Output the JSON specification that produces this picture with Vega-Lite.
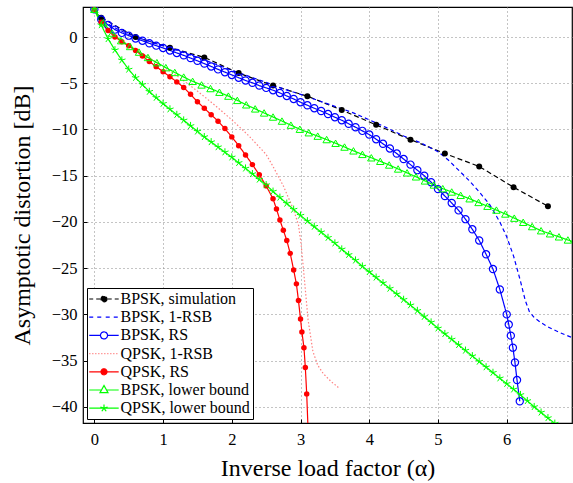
{
"$schema": "https://vega.github.io/schema/vega-lite/v6.json",
"width": 489, "height": 416,
"autosize": {"type": "none"},
"padding": {"left": 83, "top": 7, "right": 1, "bottom": 60},
"config": {
  "font": "Liberation Serif",
  "view": {"stroke": "black", "strokeWidth": 1.2},
  "legend": {"labelFont": "Liberation Serif"},
  "axis": {"labelFont": "Liberation Serif", "labelFontSize": 16.5, "labelColor": "black", "titleFont": "Liberation Serif", "titleFontSize": 24, "titleFontWeight": "normal", "titleColor": "black", "grid": true, "gridDash": [1, 3], "gridColor": "#888", "gridWidth": 1, "domain": false, "ticks": true, "tickSize": -4, "tickColor": "black", "tickWidth": 1}
},
"data": {"values": [
{"s":"BPSK, simulation","a":0.1,"d":2.1},{"s":"BPSK, simulation","a":0.6,"d":0.0},{"s":"BPSK, simulation","a":1.1,"d":-1.15},{"s":"BPSK, simulation","a":1.6,"d":-2.2},{"s":"BPSK, simulation","a":2.1,"d":-3.9},{"s":"BPSK, simulation","a":2.6,"d":-5.25},{"s":"BPSK, simulation","a":3.1,"d":-6.4},{"s":"BPSK, simulation","a":3.6,"d":-7.9},{"s":"BPSK, simulation","a":4.1,"d":-9.5},{"s":"BPSK, simulation","a":4.6,"d":-11.1},{"s":"BPSK, simulation","a":5.1,"d":-12.6},{"s":"BPSK, simulation","a":5.6,"d":-14.0},{"s":"BPSK, simulation","a":6.1,"d":-16.25},{"s":"BPSK, simulation","a":6.6,"d":-18.3},
{"s":"BPSK, 1-RSB","a":0,"d":3.0},{"s":"BPSK, 1-RSB","a":0.1,"d":1.95},{"s":"BPSK, 1-RSB","a":0.2,"d":1.4},{"s":"BPSK, 1-RSB","a":0.35,"d":0.8},{"s":"BPSK, 1-RSB","a":0.5,"d":0.3},{"s":"BPSK, 1-RSB","a":0.75,"d":-0.35},{"s":"BPSK, 1-RSB","a":1.0,"d":-0.95},{"s":"BPSK, 1-RSB","a":1.25,"d":-1.55},{"s":"BPSK, 1-RSB","a":1.5,"d":-2.2},{"s":"BPSK, 1-RSB","a":1.75,"d":-2.9},{"s":"BPSK, 1-RSB","a":2.0,"d":-3.6},{"s":"BPSK, 1-RSB","a":2.25,"d":-4.25},{"s":"BPSK, 1-RSB","a":2.5,"d":-4.9},{"s":"BPSK, 1-RSB","a":2.75,"d":-5.6},{"s":"BPSK, 1-RSB","a":3.0,"d":-6.2},{"s":"BPSK, 1-RSB","a":3.25,"d":-6.85},{"s":"BPSK, 1-RSB","a":3.5,"d":-7.5},{"s":"BPSK, 1-RSB","a":3.75,"d":-8.15},{"s":"BPSK, 1-RSB","a":4.0,"d":-8.95},{"s":"BPSK, 1-RSB","a":4.25,"d":-9.8},{"s":"BPSK, 1-RSB","a":4.5,"d":-10.7},{"s":"BPSK, 1-RSB","a":4.75,"d":-11.45},{"s":"BPSK, 1-RSB","a":5.0,"d":-12.4},{"s":"BPSK, 1-RSB","a":5.15,"d":-13.3},{"s":"BPSK, 1-RSB","a":5.3,"d":-14.4},{"s":"BPSK, 1-RSB","a":5.45,"d":-15.5},{"s":"BPSK, 1-RSB","a":5.6,"d":-16.75},{"s":"BPSK, 1-RSB","a":5.75,"d":-18.1},{"s":"BPSK, 1-RSB","a":5.9,"d":-20.0},{"s":"BPSK, 1-RSB","a":6.0,"d":-21.6},{"s":"BPSK, 1-RSB","a":6.1,"d":-23.7},{"s":"BPSK, 1-RSB","a":6.2,"d":-26.4},{"s":"BPSK, 1-RSB","a":6.27,"d":-28.5},{"s":"BPSK, 1-RSB","a":6.33,"d":-29.7},{"s":"BPSK, 1-RSB","a":6.4,"d":-30.35},{"s":"BPSK, 1-RSB","a":6.5,"d":-30.9},{"s":"BPSK, 1-RSB","a":6.6,"d":-31.35},{"s":"BPSK, 1-RSB","a":6.75,"d":-31.9},{"s":"BPSK, 1-RSB","a":6.95,"d":-32.5},
{"s":"BPSK, RS","a":0,"d":3.0},{"s":"BPSK, RS","a":0.1,"d":1.9},{"s":"BPSK, RS","a":0.2,"d":1.3},{"s":"BPSK, RS","a":0.3,"d":0.8},{"s":"BPSK, RS","a":0.4,"d":0.45},{"s":"BPSK, RS","a":0.5,"d":0.15},{"s":"BPSK, RS","a":0.6,"d":-0.15},{"s":"BPSK, RS","a":0.7,"d":-0.4},{"s":"BPSK, RS","a":0.8,"d":-0.68},{"s":"BPSK, RS","a":0.9,"d":-0.93},{"s":"BPSK, RS","a":1.0,"d":-1.18},{"s":"BPSK, RS","a":1.1,"d":-1.45},{"s":"BPSK, RS","a":1.2,"d":-1.72},{"s":"BPSK, RS","a":1.3,"d":-1.98},{"s":"BPSK, RS","a":1.4,"d":-2.27},{"s":"BPSK, RS","a":1.5,"d":-2.57},{"s":"BPSK, RS","a":1.6,"d":-2.87},{"s":"BPSK, RS","a":1.7,"d":-3.18},{"s":"BPSK, RS","a":1.8,"d":-3.5},{"s":"BPSK, RS","a":1.9,"d":-3.8},{"s":"BPSK, RS","a":2.0,"d":-4.1},{"s":"BPSK, RS","a":2.1,"d":-4.4},{"s":"BPSK, RS","a":2.2,"d":-4.7},{"s":"BPSK, RS","a":2.3,"d":-4.95},{"s":"BPSK, RS","a":2.4,"d":-5.25},{"s":"BPSK, RS","a":2.5,"d":-5.5},{"s":"BPSK, RS","a":2.6,"d":-5.75},{"s":"BPSK, RS","a":2.7,"d":-6.05},{"s":"BPSK, RS","a":2.8,"d":-6.37},{"s":"BPSK, RS","a":2.9,"d":-6.7},{"s":"BPSK, RS","a":3.0,"d":-7.05},{"s":"BPSK, RS","a":3.1,"d":-7.38},{"s":"BPSK, RS","a":3.2,"d":-7.7},{"s":"BPSK, RS","a":3.3,"d":-8.0},{"s":"BPSK, RS","a":3.4,"d":-8.33},{"s":"BPSK, RS","a":3.5,"d":-8.67},{"s":"BPSK, RS","a":3.6,"d":-9.0},{"s":"BPSK, RS","a":3.7,"d":-9.38},{"s":"BPSK, RS","a":3.8,"d":-9.75},{"s":"BPSK, RS","a":3.9,"d":-10.15},{"s":"BPSK, RS","a":4.0,"d":-10.55},{"s":"BPSK, RS","a":4.1,"d":-11.05},{"s":"BPSK, RS","a":4.2,"d":-11.55},{"s":"BPSK, RS","a":4.3,"d":-12.05},{"s":"BPSK, RS","a":4.4,"d":-12.6},{"s":"BPSK, RS","a":4.5,"d":-13.2},{"s":"BPSK, RS","a":4.6,"d":-13.8},{"s":"BPSK, RS","a":4.7,"d":-14.4},{"s":"BPSK, RS","a":4.8,"d":-15.0},{"s":"BPSK, RS","a":4.9,"d":-15.7},{"s":"BPSK, RS","a":5.0,"d":-16.45},{"s":"BPSK, RS","a":5.1,"d":-17.2},{"s":"BPSK, RS","a":5.2,"d":-17.95},{"s":"BPSK, RS","a":5.3,"d":-18.75},{"s":"BPSK, RS","a":5.4,"d":-19.7},{"s":"BPSK, RS","a":5.5,"d":-20.8},{"s":"BPSK, RS","a":5.6,"d":-22.0},{"s":"BPSK, RS","a":5.7,"d":-23.5},{"s":"BPSK, RS","a":5.8,"d":-25.1},{"s":"BPSK, RS","a":5.9,"d":-27.3},{"s":"BPSK, RS","a":6.0,"d":-30.0},{"s":"BPSK, RS","a":6.03,"d":-31.1},{"s":"BPSK, RS","a":6.06,"d":-32.3},{"s":"BPSK, RS","a":6.09,"d":-33.6},{"s":"BPSK, RS","a":6.12,"d":-35.2},{"s":"BPSK, RS","a":6.15,"d":-37.1},{"s":"BPSK, RS","a":6.19,"d":-39.4},
{"s":"QPSK, 1-RSB","a":0,"d":3.0},{"s":"QPSK, 1-RSB","a":0.1,"d":1.6},{"s":"QPSK, 1-RSB","a":0.2,"d":0.7},{"s":"QPSK, 1-RSB","a":0.3,"d":0.05},{"s":"QPSK, 1-RSB","a":0.5,"d":-0.85},{"s":"QPSK, 1-RSB","a":0.75,"d":-2.0},{"s":"QPSK, 1-RSB","a":1.0,"d":-3.2},{"s":"QPSK, 1-RSB","a":1.25,"d":-4.45},{"s":"QPSK, 1-RSB","a":1.5,"d":-5.85},{"s":"QPSK, 1-RSB","a":1.75,"d":-7.35},{"s":"QPSK, 1-RSB","a":2.0,"d":-8.95},{"s":"QPSK, 1-RSB","a":2.25,"d":-10.7},{"s":"QPSK, 1-RSB","a":2.5,"d":-12.7},{"s":"QPSK, 1-RSB","a":2.6,"d":-14.0},{"s":"QPSK, 1-RSB","a":2.75,"d":-16.1},{"s":"QPSK, 1-RSB","a":2.9,"d":-18.7},{"s":"QPSK, 1-RSB","a":2.97,"d":-20.3},{"s":"QPSK, 1-RSB","a":3.01,"d":-22.5},{"s":"QPSK, 1-RSB","a":3.06,"d":-26.5},{"s":"QPSK, 1-RSB","a":3.11,"d":-30.6},{"s":"QPSK, 1-RSB","a":3.18,"d":-34.0},{"s":"QPSK, 1-RSB","a":3.25,"d":-35.5},{"s":"QPSK, 1-RSB","a":3.33,"d":-36.4},{"s":"QPSK, 1-RSB","a":3.45,"d":-37.3},{"s":"QPSK, 1-RSB","a":3.55,"d":-37.9},
{"s":"QPSK, RS","a":0,"d":3.0},{"s":"QPSK, RS","a":0.1,"d":1.6},{"s":"QPSK, RS","a":0.2,"d":0.7},{"s":"QPSK, RS","a":0.3,"d":0.0},{"s":"QPSK, RS","a":0.4,"d":-0.5},{"s":"QPSK, RS","a":0.5,"d":-0.95},{"s":"QPSK, RS","a":0.6,"d":-1.45},{"s":"QPSK, RS","a":0.7,"d":-2.05},{"s":"QPSK, RS","a":0.8,"d":-2.65},{"s":"QPSK, RS","a":0.9,"d":-3.2},{"s":"QPSK, RS","a":1.0,"d":-3.75},{"s":"QPSK, RS","a":1.1,"d":-4.3},{"s":"QPSK, RS","a":1.2,"d":-4.85},{"s":"QPSK, RS","a":1.3,"d":-5.45},{"s":"QPSK, RS","a":1.4,"d":-6.2},{"s":"QPSK, RS","a":1.5,"d":-7.0},{"s":"QPSK, RS","a":1.6,"d":-7.7},{"s":"QPSK, RS","a":1.7,"d":-8.4},{"s":"QPSK, RS","a":1.8,"d":-9.1},{"s":"QPSK, RS","a":1.9,"d":-9.9},{"s":"QPSK, RS","a":2.0,"d":-10.8},{"s":"QPSK, RS","a":2.1,"d":-11.75},{"s":"QPSK, RS","a":2.2,"d":-12.75},{"s":"QPSK, RS","a":2.3,"d":-13.8},{"s":"QPSK, RS","a":2.4,"d":-14.9},{"s":"QPSK, RS","a":2.5,"d":-16.1},{"s":"QPSK, RS","a":2.6,"d":-17.5},{"s":"QPSK, RS","a":2.65,"d":-18.6},{"s":"QPSK, RS","a":2.7,"d":-19.8},{"s":"QPSK, RS","a":2.75,"d":-20.9},{"s":"QPSK, RS","a":2.8,"d":-22.0},{"s":"QPSK, RS","a":2.85,"d":-23.4},{"s":"QPSK, RS","a":2.9,"d":-25.2},{"s":"QPSK, RS","a":2.94,"d":-26.7},{"s":"QPSK, RS","a":2.97,"d":-28.5},{"s":"QPSK, RS","a":3.0,"d":-30.5},{"s":"QPSK, RS","a":3.02,"d":-31.9},{"s":"QPSK, RS","a":3.05,"d":-33.6},{"s":"QPSK, RS","a":3.07,"d":-35.75},{"s":"QPSK, RS","a":3.09,"d":-38.6},{"s":"QPSK, RS","a":3.11,"d":-42.5},
{"s":"BPSK, lower bound","a":0,"d":3.0},{"s":"BPSK, lower bound","a":0.13,"d":1.55},{"s":"BPSK, lower bound","a":0.26,"d":0.43},{"s":"BPSK, lower bound","a":0.39,"d":-0.39},{"s":"BPSK, lower bound","a":0.52,"d":-1.02},{"s":"BPSK, lower bound","a":0.65,"d":-1.63},{"s":"BPSK, lower bound","a":0.78,"d":-2.21},{"s":"BPSK, lower bound","a":0.91,"d":-2.77},{"s":"BPSK, lower bound","a":1.04,"d":-3.31},{"s":"BPSK, lower bound","a":1.17,"d":-3.83},{"s":"BPSK, lower bound","a":1.3,"d":-4.33},{"s":"BPSK, lower bound","a":1.43,"d":-4.79},{"s":"BPSK, lower bound","a":1.56,"d":-5.18},{"s":"BPSK, lower bound","a":1.69,"d":-5.57},{"s":"BPSK, lower bound","a":1.82,"d":-5.97},{"s":"BPSK, lower bound","a":1.95,"d":-6.39},{"s":"BPSK, lower bound","a":2.08,"d":-6.85},{"s":"BPSK, lower bound","a":2.21,"d":-7.33},{"s":"BPSK, lower bound","a":2.34,"d":-7.77},{"s":"BPSK, lower bound","a":2.47,"d":-8.21},{"s":"BPSK, lower bound","a":2.6,"d":-8.65},{"s":"BPSK, lower bound","a":2.73,"d":-9.09},{"s":"BPSK, lower bound","a":2.86,"d":-9.53},{"s":"BPSK, lower bound","a":2.99,"d":-9.97},{"s":"BPSK, lower bound","a":3.12,"d":-10.35},{"s":"BPSK, lower bound","a":3.25,"d":-10.72},{"s":"BPSK, lower bound","a":3.38,"d":-11.09},{"s":"BPSK, lower bound","a":3.51,"d":-11.49},{"s":"BPSK, lower bound","a":3.64,"d":-11.9},{"s":"BPSK, lower bound","a":3.77,"d":-12.31},{"s":"BPSK, lower bound","a":3.9,"d":-12.69},{"s":"BPSK, lower bound","a":4.03,"d":-13.06},{"s":"BPSK, lower bound","a":4.16,"d":-13.44},{"s":"BPSK, lower bound","a":4.29,"d":-13.84},{"s":"BPSK, lower bound","a":4.42,"d":-14.27},{"s":"BPSK, lower bound","a":4.55,"d":-14.69},{"s":"BPSK, lower bound","a":4.68,"d":-15.12},{"s":"BPSK, lower bound","a":4.81,"d":-15.56},{"s":"BPSK, lower bound","a":4.94,"d":-16.0},{"s":"BPSK, lower bound","a":5.07,"d":-16.4},{"s":"BPSK, lower bound","a":5.2,"d":-16.76},{"s":"BPSK, lower bound","a":5.33,"d":-17.12},{"s":"BPSK, lower bound","a":5.46,"d":-17.49},{"s":"BPSK, lower bound","a":5.59,"d":-17.89},{"s":"BPSK, lower bound","a":5.72,"d":-18.3},{"s":"BPSK, lower bound","a":5.85,"d":-18.72},{"s":"BPSK, lower bound","a":5.98,"d":-19.14},{"s":"BPSK, lower bound","a":6.11,"d":-19.59},{"s":"BPSK, lower bound","a":6.24,"d":-20.04},{"s":"BPSK, lower bound","a":6.37,"d":-20.5},{"s":"BPSK, lower bound","a":6.5,"d":-20.95},{"s":"BPSK, lower bound","a":6.63,"d":-21.28},{"s":"BPSK, lower bound","a":6.76,"d":-21.61},{"s":"BPSK, lower bound","a":6.89,"d":-21.95},{"s":"BPSK, lower bound","a":7.02,"d":-22.28},
{"s":"QPSK, lower bound","a":0,"d":3.0},{"s":"QPSK, lower bound","a":0.1,"d":1.3},{"s":"QPSK, lower bound","a":0.2,"d":-0.2},{"s":"QPSK, lower bound","a":0.3,"d":-1.4},{"s":"QPSK, lower bound","a":0.4,"d":-2.5},{"s":"QPSK, lower bound","a":0.5,"d":-3.5},{"s":"QPSK, lower bound","a":0.6,"d":-4.4},{"s":"QPSK, lower bound","a":0.7,"d":-5.15},{"s":"QPSK, lower bound","a":0.8,"d":-5.9},{"s":"QPSK, lower bound","a":0.9,"d":-6.55},{"s":"QPSK, lower bound","a":1.0,"d":-7.2},{"s":"QPSK, lower bound","a":1.1,"d":-7.8},{"s":"QPSK, lower bound","a":1.2,"d":-8.4},{"s":"QPSK, lower bound","a":1.3,"d":-9.0},{"s":"QPSK, lower bound","a":1.4,"d":-9.6},{"s":"QPSK, lower bound","a":1.5,"d":-10.2},{"s":"QPSK, lower bound","a":1.6,"d":-10.8},{"s":"QPSK, lower bound","a":1.7,"d":-11.35},{"s":"QPSK, lower bound","a":1.8,"d":-11.9},{"s":"QPSK, lower bound","a":1.9,"d":-12.45},{"s":"QPSK, lower bound","a":2.0,"d":-13.0},{"s":"QPSK, lower bound","a":2.1,"d":-13.6},{"s":"QPSK, lower bound","a":2.2,"d":-14.2},{"s":"QPSK, lower bound","a":2.3,"d":-14.8},{"s":"QPSK, lower bound","a":2.4,"d":-15.4},{"s":"QPSK, lower bound","a":2.5,"d":-16.0},{"s":"QPSK, lower bound","a":2.6,"d":-16.7},{"s":"QPSK, lower bound","a":2.7,"d":-17.35},{"s":"QPSK, lower bound","a":2.8,"d":-18.0},{"s":"QPSK, lower bound","a":2.9,"d":-18.65},{"s":"QPSK, lower bound","a":3.0,"d":-19.3},{"s":"QPSK, lower bound","a":3.1,"d":-19.9},{"s":"QPSK, lower bound","a":3.2,"d":-20.5},{"s":"QPSK, lower bound","a":3.3,"d":-21.1},{"s":"QPSK, lower bound","a":3.4,"d":-21.7},{"s":"QPSK, lower bound","a":3.5,"d":-22.3},{"s":"QPSK, lower bound","a":3.6,"d":-22.95},{"s":"QPSK, lower bound","a":3.7,"d":-23.55},{"s":"QPSK, lower bound","a":3.8,"d":-24.15},{"s":"QPSK, lower bound","a":3.9,"d":-24.8},{"s":"QPSK, lower bound","a":4.0,"d":-25.4},{"s":"QPSK, lower bound","a":4.1,"d":-26.0},{"s":"QPSK, lower bound","a":4.2,"d":-26.6},{"s":"QPSK, lower bound","a":4.3,"d":-27.2},{"s":"QPSK, lower bound","a":4.4,"d":-27.8},{"s":"QPSK, lower bound","a":4.5,"d":-28.4},{"s":"QPSK, lower bound","a":4.6,"d":-29.0},{"s":"QPSK, lower bound","a":4.7,"d":-29.6},{"s":"QPSK, lower bound","a":4.8,"d":-30.25},{"s":"QPSK, lower bound","a":4.9,"d":-30.85},{"s":"QPSK, lower bound","a":5.0,"d":-31.5},{"s":"QPSK, lower bound","a":5.1,"d":-32.1},{"s":"QPSK, lower bound","a":5.2,"d":-32.7},{"s":"QPSK, lower bound","a":5.3,"d":-33.3},{"s":"QPSK, lower bound","a":5.4,"d":-33.9},{"s":"QPSK, lower bound","a":5.5,"d":-34.5},{"s":"QPSK, lower bound","a":5.6,"d":-35.1},{"s":"QPSK, lower bound","a":5.7,"d":-35.7},{"s":"QPSK, lower bound","a":5.8,"d":-36.3},{"s":"QPSK, lower bound","a":5.9,"d":-36.9},{"s":"QPSK, lower bound","a":6.0,"d":-37.5},{"s":"QPSK, lower bound","a":6.1,"d":-38.1},{"s":"QPSK, lower bound","a":6.2,"d":-38.7},{"s":"QPSK, lower bound","a":6.3,"d":-39.35},{"s":"QPSK, lower bound","a":6.4,"d":-40.0},{"s":"QPSK, lower bound","a":6.5,"d":-40.6},{"s":"QPSK, lower bound","a":6.6,"d":-41.2},{"s":"QPSK, lower bound","a":6.7,"d":-41.8}
]},
"encoding": {
  "x": {"field": "a", "type": "quantitative", "scale": {"domain": [-0.165, 6.95], "nice": false, "zero": false}, "axis": {"title": "Inverse load factor (α)", "values": [0, 1, 2, 3, 4, 5, 6], "format": "d", "labelPadding": 12, "titlePadding": 9}},
  "y": {"field": "d", "type": "quantitative", "scale": {"domain": [-41.75, 3.25], "nice": false, "zero": false}, "axis": {"title": "Asymptotic distortion [dB]", "values": [0, -5, -10, -15, -20, -25, -30, -35, -40], "labelPadding": 10, "titlePadding": 17}}
},
"layer": [
  {"mark": {"type": "line", "clip": true, "strokeWidth": 1.2},
   "encoding": {
     "color": {"field": "s", "type": "nominal",
       "scale": {"domain": ["BPSK, simulation", "BPSK, 1-RSB", "BPSK, RS", "QPSK, 1-RSB", "QPSK, RS", "BPSK, lower bound", "QPSK, lower bound"], "range": ["#000000", "#0000ff", "#0000ff", "#ff8080", "#ff0000", "#00ff00", "#00ff00"]},
       "legend": {"title": null, "orient": "bottom-left", "offset": 4, "direction": "vertical", "symbolSize": 225, "symbolStrokeWidth": 1.2, "labelFont": "Liberation Serif", "labelFontSize": 16, "labelColor": "black", "labelLimit": 300, "labelOffset": 14, "strokeColor": "black", "fillColor": "white", "padding": 2.5, "rowPadding": 1.2,
         "encode": {"symbols": {"update": {
           "shape": {"signal": "datum.value === 'BPSK, simulation' ? 'M-1.17,0H-0.64M-0.24,0H0.3M1.3,0H1.83M2.23,0H2.76M1.2,0A0.4,0.4,0,1,1,0.4,0A0.4,0.4,0,1,1,1.2,0Z' : datum.value === 'BPSK, 1-RSB' ? 'M-1.17,0H-0.5M-0.1,0H0.56M1.03,0H1.7M2.1,0H2.76' : datum.value === 'BPSK, RS' ? 'M-1.17,0H0.33M1.27,0H2.76M1.27,0A0.47,0.47,0,1,1,0.33,0A0.47,0.47,0,1,1,1.27,0Z' : datum.value === 'QPSK, 1-RSB' ? 'M-1.17,0H-1.01M-0.77,0H-0.61M-0.37,0H-0.21M0.03,0H0.19M0.43,0H0.59M0.83,0H0.99M1.23,0H1.39M1.63,0H1.79M2.03,0H2.19M2.43,0H2.59' : datum.value === 'QPSK, RS' ? 'M-1.17,0H2.76M1.2,0A0.4,0.4,0,1,1,0.4,0A0.4,0.4,0,1,1,1.2,0Z' : datum.value === 'BPSK, lower bound' ? 'M-1.17,0H0.47M1.13,0H2.76M0.8,-0.6L1.33,0.35L0.27,0.35Z' : 'M-1.17,0H2.76M0.8,0V-0.5M0.8,0L1.28,-0.155M0.8,0L1.09,0.405M0.8,0L0.51,0.405M0.8,0L0.32,-0.155'"},
           "fill": {"signal": "datum.value === 'BPSK, simulation' ? '#000000' : datum.value === 'QPSK, RS' ? '#ff0000' : 'transparent'"},
           "strokeDash": {"value": []},
           "opacity": {"value": 1}
         }}}}},
     "strokeDash": {"field": "s", "type": "nominal",
       "scale": {"domain": ["BPSK, simulation", "BPSK, 1-RSB", "BPSK, RS", "QPSK, 1-RSB", "QPSK, RS", "BPSK, lower bound", "QPSK, lower bound"], "range": [[5, 3], [4, 3], [1, 0], [1.5, 2], [1, 0], [1, 0], [1, 0]]},
       "legend": null}
   }},
  {"transform": [{"filter": "datum.s === 'BPSK, simulation'"}],
   "mark": {"type": "point", "clip": true, "shape": "circle", "filled": true, "color": "#000000", "size": 36, "opacity": 1}},
  {"transform": [{"filter": "datum.s === 'BPSK, RS'"}],
   "mark": {"type": "point", "clip": true, "shape": "circle", "filled": false, "color": "#0000ff", "size": 52, "strokeWidth": 1.2, "opacity": 1}},
  {"transform": [{"filter": "datum.s === 'QPSK, RS'"}],
   "mark": {"type": "point", "clip": true, "shape": "circle", "filled": true, "color": "#ff0000", "size": 30, "opacity": 1}},
  {"transform": [{"filter": "datum.s === 'BPSK, lower bound'"}],
   "mark": {"type": "point", "clip": true, "shape": "triangle-up", "filled": false, "color": "#00ff00", "size": 55, "strokeWidth": 1, "opacity": 1}},
  {"transform": [{"filter": "datum.s === 'QPSK, lower bound'"}],
   "mark": {"type": "point", "clip": true, "shape": "M0,0L0,-1M0,0L0.951,-0.309M0,0L0.588,0.809M0,0L-0.588,0.809M0,0L-0.951,-0.309", "filled": false, "color": "#00ff00", "size": 60, "strokeWidth": 1, "opacity": 1}}
]
}
